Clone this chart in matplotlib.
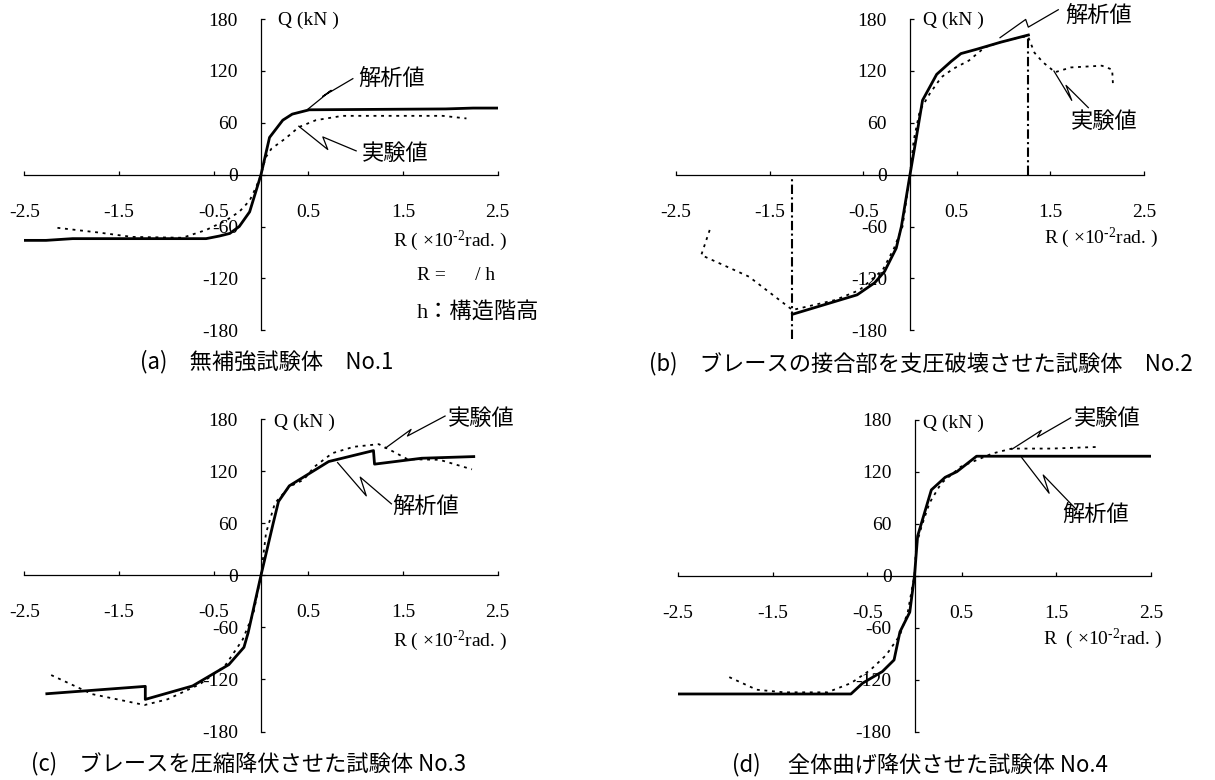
import matplotlib
matplotlib.use("Agg")
import matplotlib.pyplot as plt

plt.rcParams['font.family'] = ['Liberation Serif', 'Noto Sans CJK JP']
plt.rcParams['mathtext.fontset'] = 'custom'
plt.rcParams['mathtext.rm'] = 'Liberation Serif'
plt.rcParams['mathtext.it'] = 'Liberation Serif:italic'
plt.rcParams['mathtext.default'] = 'rm'

JP = ['Noto Sans CJK JP', 'DejaVu Sans']

# axes
r_ticks = [-2.5, -1.5, -0.5, 0.5, 1.5, 2.5]
r_tick_labels = ['-2.5', '-1.5', '-0.5', '0.5', '1.5', '2.5']
q_ticks = [-180, -120, -60, 0, 60, 120, 180]
q_tick_labels = ['-180', '-120', '-60', '0', '60', '120', '180']

# (a) 無補強試験体 No.1
a_ana_r = [-2.49, -2.27, -1.99, -0.58, -0.44, -0.33, -0.23, -0.12, 0.0, 0.09, 0.23, 0.33, 0.51, 1.95, 2.24, 2.5]
a_ana_q = [-76, -76, -74, -74, -71, -68, -60, -43, 0, 43, 63, 70, 75, 76, 77, 77]
a_exp_r = [-2.15, -1.71, -1.36, -0.83, -0.58, -0.37, -0.23, -0.12, -0.05, 0.0, 0.05, 0.11, 0.26, 0.40, 0.58, 0.86, 1.11, 1.92, 2.17]
a_exp_q = [-61.5, -67, -72, -73, -64, -53, -43, -30, -14, 0, 20, 30, 42, 55, 63, 68, 68, 68, 65]

# (b) ブレースの接合部を支圧破壊させた試験体 No.2
b_ana_r = [-1.256, -0.565, -0.377, -0.272, -0.147, -0.092, 0.0, 0.063, 0.134, 0.285, 0.44, 0.544, 0.712, 0.963, 1.265]
b_ana_q = [-161.5, -139, -125, -112, -85, -60, 0, 40, 86, 116, 131, 140, 145, 153, 161.5]
b_exp_r = [-2.14, -2.23, -1.72, -1.256, -0.80, -0.54, -0.29, -0.17, -0.08, 0.0, 0.04, 0.105, 0.21, 0.335,
           0.46, 0.63, 0.80, 0.96, 1.17, 1.26, 1.33, 1.42, 1.55, 1.72, 2.05, 2.16, 2.17]
b_exp_q = [-64, -93, -118, -156.5, -145, -133.5, -110, -85, -60, 0, 40, 74, 93.5, 112.7,
           122.3, 132, 147.3, 153, 158.8, 160, 141, 130, 118.5, 124, 126, 121.5, 101]
b_break_r = [1.264, -1.256]
b_break_from = [163, 0]
b_break_to = [0, -190]

# (c) ブレースを圧縮降伏させた試験体 No.3
c_ana_r = [-2.262, -1.222, -1.222, -0.722, -0.34, -0.18, -0.136, 0.0, 0.129, 0.185, 0.299, 0.488, 0.715, 1.188, 1.199, 1.698, 2.247]
c_ana_q = [-136.5, -128, -143, -127.5, -103, -83, -66.3, 0, 60, 85, 103, 115.7, 131, 143.6, 128, 134.8, 136.7]
c_exp_r = [-2.216, -1.781, -1.23, -0.987, -0.647, -0.382, -0.193, -0.079, 0.0, 0.053, 0.147, 0.299, 0.45,
           0.564, 0.753, 0.98, 1.244, 1.396, 1.547, 1.887, 2.228]
c_exp_q = [-115, -137, -149.5, -142.9, -125.6, -104.6, -74, -43.3, 0, 48.6, 83, 102, 110,
           125, 140.6, 148, 151, 142.5, 133.7, 133, 122]

# (d) 全体曲げ降伏させた試験体 No.4
d_ana_r = [-2.5, -0.672, -0.548, -0.34, -0.216, -0.154, -0.05, 0.0, 0.033, 0.178, 0.324, 0.448, 0.656, 2.5]
d_ana_q = [-136.2, -136.2, -123.7, -110.4, -97, -64.7, -41.9, 0, 45.7, 98.9, 113.4, 119.9, 137.7, 137.7]
d_exp_r = [-1.958, -1.668, -1.378, -0.921, -0.672, -0.465, -0.299, -0.154, -0.071, -0.021, 0.0, 0.017,
           0.075, 0.158, 0.282, 0.49, 0.822, 1.029, 1.444, 1.942]
d_exp_q = [-116.8, -131.3, -134.3, -134.3, -123.7, -108.4, -91.3, -68.5, -41.9, -11.4, 0, 34.2,
           57, 83.7, 106.5, 125.6, 140.8, 146.5, 146.5, 148.4]

# leader lines (R, Q) and their labels
a_lead_ana = ([0.494, 0.741, 0.653, 0.970], [75.6, 97.5, 90.6, 111.0])
a_lead_exp = ([0.399, 0.705, 0.653, 1.005], [56.0, 29.1, 43.6, 27.5])
b_lead_ana = ([0.962, 1.236, 1.264, 1.584], [158.4, 179.5, 170.6, 190.7])
b_lead_exp = ([1.538, 1.728, 1.667, 1.905], [119.8, 85.9, 103.2, 77.5])
c_lead_exp = ([1.312, 1.585, 1.547, 1.944], [146.3, 168.0, 160.4, 183.4])
c_lead_ana = ([0.809, 1.112, 1.048, 1.377], [129.8, 91.5, 113.0, 82.3])
d_lead_exp = ([1.029, 1.340, 1.299, 1.651], [145.7, 167.4, 159.8, 181.9])
d_lead_ana = ([1.133, 1.423, 1.361, 1.714], [136.2, 95.1, 116.0, 76.0])

label_ana = '解析値'
label_exp = '実験値'

captions = ['(a)\u3000無補強試験体\u3000No.1',
            '(b)\u3000ブレースの接合部を支圧破壊させた試験体\u3000No.2',
            '(c)\u3000ブレースを圧縮降伏させた試験体 No.3',
            '(d)\u3000 全体曲げ降伏させた試験体 No.4']

W, H = 1215, 780
fig = plt.figure(figsize=(W / 100, H / 100), dpi=100)


def make_axes(left, right, top, bottom):
    ax = fig.add_axes([left / W, 1 - bottom / H, (right - left) / W, (bottom - top) / H])
    ax.set_xlim(-2.5, 2.5)
    ax.set_ylim(-180, 180)
    ax.patch.set_alpha(0)
    for s in ['top', 'right']:
        ax.spines[s].set_visible(False)
    ax.spines['left'].set_position(('data', 0))
    ax.spines['bottom'].set_position(('data', 0))
    for s in ['left', 'bottom']:
        ax.spines[s].set_linewidth(0.9)
    ax.set_xticks(r_ticks)
    ax.set_xticklabels(r_tick_labels)
    ax.set_yticks(q_ticks)
    ax.set_yticklabels(q_tick_labels)
    ax.tick_params(axis='x', direction='in', length=3.2, width=0.9, pad=21, labelsize=14)
    ax.tick_params(axis='y', direction='in', length=3.2, width=0.9, pad=16.5, labelsize=14)
    return ax


def curves(ax, ana_r, ana_q, exp_r, exp_q):
    ax.plot(exp_r, exp_q, color='black', lw=1.3, linestyle=(0, (1.6, 2.6)), zorder=3)
    ax.plot(ana_r, ana_q, color='black', lw=2.0, zorder=4)


def leader(ax, path, text, tx, ty):
    ax.plot(path[0], path[1], color='black', lw=0.9, clip_on=False, zorder=5)
    ax.text(tx, ty, text, family=JP, fontsize=16, ha='left', va='center')


def axis_names(ax, qx, qy, rx, ry, rtext):
    ax.text(qx, qy, 'Q (kN )', fontsize=14, ha='left', va='center')
    ax.text(rx, ry, rtext, fontsize=14, ha='right', va='center')


r_label = r'R ( $\times$10$^{\text{-2}}$rad. )'
r_label_d = r'R  ( $\times$10$^{\text{-2}}$rad. )'

# (a)
ax_a = make_axes(24.3, 497.7, 19, 330.3)
curves(ax_a, a_ana_r, a_ana_q, a_exp_r, a_exp_q)
leader(ax_a, a_lead_ana, label_ana, 1.022, 111)
leader(ax_a, a_lead_exp, label_exp, 1.066, 24.3)
axis_names(ax_a, 0.175, 179, 2.60, -76, r_label)
ax_a.text(1.643, -116.4, 'R =      / h', fontsize=14, ha='left', va='center')
ax_a.text(1.643, -158.8, 'h：構造階高', fontsize=16, ha='left', va='center')

# (b)
ax_b = make_axes(676, 1144, 19, 330.3)
curves(ax_b, b_ana_r, b_ana_q, b_exp_r, b_exp_q)
ax_b.vlines(b_break_r, b_break_to, b_break_from, colors='black', lw=1.5,
            linestyles=[(0, (4.5, 1.6, 1.0, 1.6))], clip_on=False, zorder=4)
leader(ax_b, b_lead_ana, label_ana, 1.656, 184)
leader(ax_b, b_lead_exp, label_exp, 1.72, 61)
axis_names(ax_b, 0.14, 179, 2.65, -73.6, r_label)

# (c)
ax_c = make_axes(24.3, 497.7, 419, 731.5)
curves(ax_c, c_ana_r, c_ana_q, c_exp_r, c_exp_q)
leader(ax_c, c_lead_exp, label_exp, 1.975, 180.8)
leader(ax_c, c_lead_ana, label_ana, 1.386, 78.8)
axis_names(ax_c, 0.136, 176, 2.60, -75, r_label)

# (d)
ax_d = make_axes(678, 1151, 419.5, 732)
curves(ax_d, d_ana_r, d_ana_q, d_exp_r, d_exp_q)
leader(ax_d, d_lead_exp, label_exp, 1.686, 181.6)
leader(ax_d, d_lead_ana, label_ana, 1.56, 71.2)
axis_names(ax_d, 0.087, 176, 2.62, -73, r_label_d)

# captions
cap_pos = [(266.7, 361.7), (921, 363.3), (248.5, 763.3), (920, 765)]
for cap, (cx, cy) in zip(captions, cap_pos):
    fig.text(cx / W, 1 - cy / H, cap, family=JP, fontsize=16, ha='center', va='center')

fig.savefig('out.png', dpi=100)
